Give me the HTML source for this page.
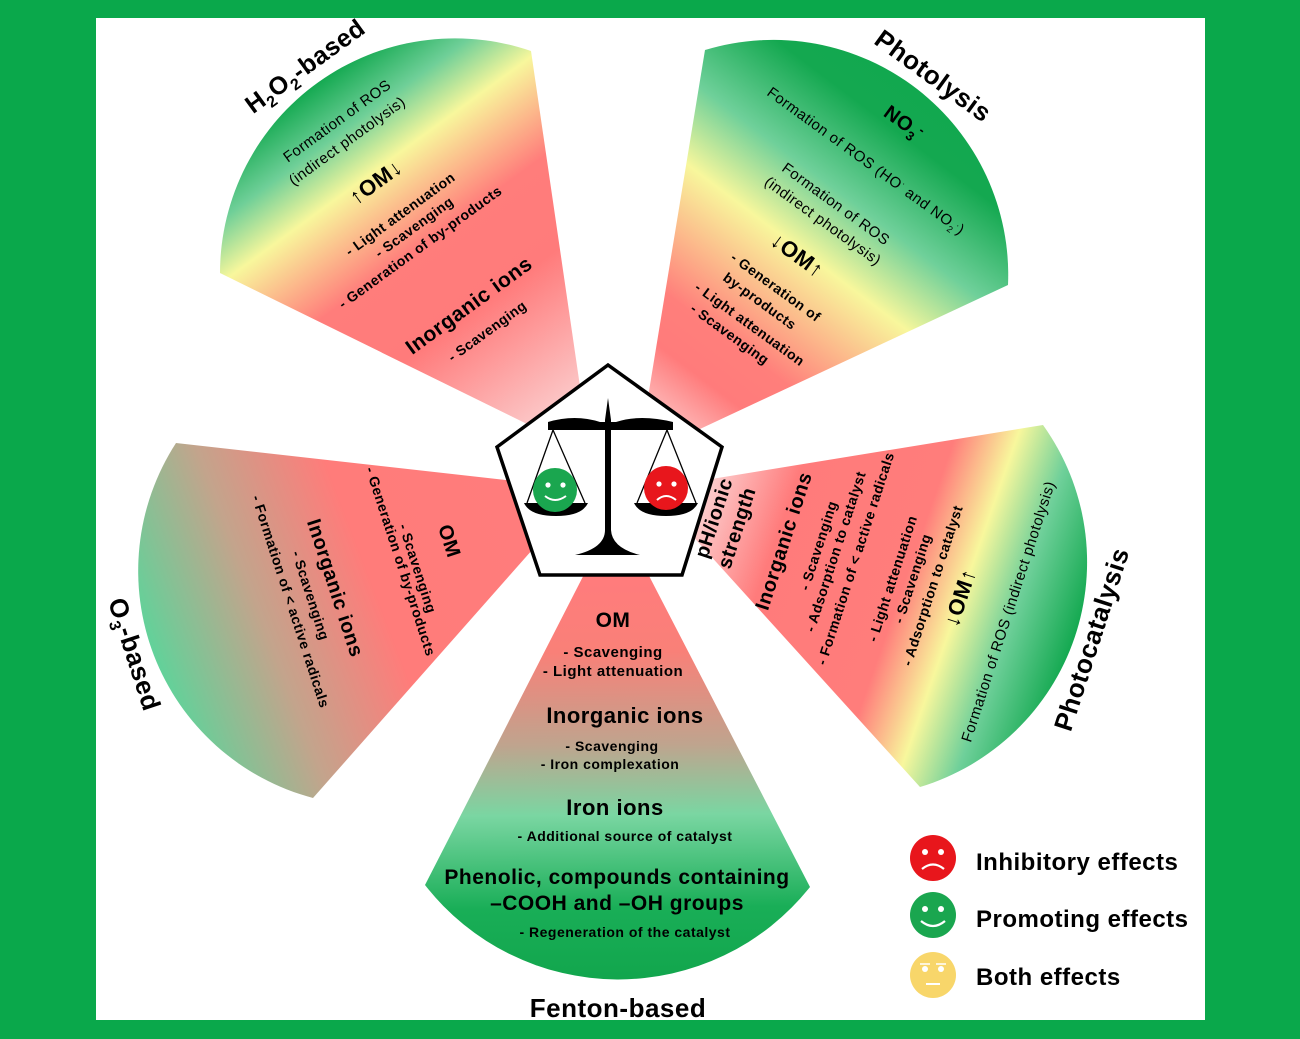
<!DOCTYPE html>
<html><head><meta charset="utf-8"><style>
html,body{margin:0;padding:0;background:#0aa84b;}
svg{display:block;}
text{font-family:"Liberation Sans",Arial,sans-serif;fill:#000;letter-spacing:0.5px;}
.b{font-weight:bold;}
</style></head><body>
<svg width="1300" height="1039" viewBox="0 0 1300 1039" xmlns="http://www.w3.org/2000/svg">
<defs>
<linearGradient id="gH" gradientUnits="userSpaceOnUse" x1="590" y1="455" x2="317" y2="81">
<stop offset="0.08" stop-color="#fbd3d3"/><stop offset="0.4" stop-color="#ff7b7b"/><stop offset="0.58" stop-color="#ff7d7b"/><stop offset="0.77" stop-color="#f8f79c"/><stop offset="0.88" stop-color="#6fcf98"/><stop offset="1" stop-color="#12a84f"/>
</linearGradient>
<linearGradient id="gP" gradientUnits="userSpaceOnUse" x1="638" y1="458" x2="917" y2="88">
<stop offset="0.05" stop-color="#fcd6d6"/><stop offset="0.22" stop-color="#ff7b7b"/><stop offset="0.32" stop-color="#ff7f7b"/><stop offset="0.57" stop-color="#f8f79c"/><stop offset="0.72" stop-color="#6fd09a"/><stop offset="0.9" stop-color="#14a850"/><stop offset="1" stop-color="#12a84f"/>
</linearGradient>
<linearGradient id="gC" gradientUnits="userSpaceOnUse" x1="650" y1="489" x2="1076" y2="638">
<stop offset="0.1" stop-color="#fcd6d6"/><stop offset="0.3" stop-color="#ff7b7b"/><stop offset="0.6" stop-color="#ff7d7b"/><stop offset="0.73" stop-color="#f8f79c"/><stop offset="0.85" stop-color="#6fd09a"/><stop offset="1" stop-color="#12a84f"/>
</linearGradient>
<linearGradient id="gO" gradientUnits="userSpaceOnUse" x1="586" y1="489" x2="151" y2="656">
<stop offset="0.1" stop-color="#ff7c7c"/><stop offset="0.5" stop-color="#ff7c7a"/><stop offset="0.75" stop-color="#c3a48c"/><stop offset="1" stop-color="#5fd39a"/>
</linearGradient>
<linearGradient id="gF" gradientUnits="userSpaceOnUse" x1="616" y1="512" x2="620" y2="978">
<stop offset="0.15" stop-color="#ff7c7c"/><stop offset="0.3" stop-color="#f98078"/><stop offset="0.5" stop-color="#bfa48e"/><stop offset="0.65" stop-color="#7ad6a2"/><stop offset="0.85" stop-color="#19ae57"/><stop offset="1" stop-color="#12a64d"/>
</linearGradient>
</defs>
<rect x="96" y="18" width="1109" height="1002" fill="#fff"/>

<path d="M590 455 L220 273 A235 235 0 0 1 531 51 Z" fill="url(#gH)"/>
<path d="M638 458 L705 50 A235 235 0 0 1 1008 285 Z" fill="url(#gP)"/>
<path d="M650 489 L1043 425 A235 235 0 0 1 920 787 Z" fill="url(#gC)"/>
<path d="M616 512 L810 887 A245 245 0 0 1 425 885 Z" fill="url(#gF)"/>
<path d="M586 489 L313 798 A235 235 0 0 1 176 443 Z" fill="url(#gO)"/>

<polygon points="608,365 722,447 682,575 540,575 497,447" fill="#fff" stroke="#000" stroke-width="3.5"/>
<g fill="#000" stroke="#000">
<path d="M608 398 L611 420 L611 530 Q612 548 640 555 L575 555 Q605 548 605 530 L605 420 Z" stroke="none"/>
<path d="M548 422 Q575 414 600 422 L616 422 Q640 414 673 422 L673 430 L548 430 Z" stroke="none"/>
<line x1="553" y1="430" x2="527" y2="503" stroke-width="1.3"/><line x1="553" y1="430" x2="585" y2="503" stroke-width="1.3"/>
<line x1="667" y1="430" x2="637" y2="503" stroke-width="1.3"/><line x1="667" y1="430" x2="696" y2="503" stroke-width="1.3"/>
<path d="M524 503 L588 503 Q582 516 556 516 Q530 516 524 503 Z" stroke="none"/>
<path d="M634 503 L698 503 Q692 516 666 516 Q640 516 634 503 Z" stroke="none"/>
</g>
<circle cx="555" cy="490" r="22" fill="#1aa64f"/>
<circle cx="548" cy="485" r="2.6" fill="#fff"/><circle cx="563" cy="485" r="2.6" fill="#fff"/>
<path d="M545 496 Q555 504 566 496" stroke="#fff" stroke-width="2" fill="none"/>
<circle cx="666" cy="488" r="22" fill="#e8161c"/>
<circle cx="659" cy="484" r="2.6" fill="#fff"/><circle cx="674" cy="484" r="2.6" fill="#fff"/>
<path d="M657 500 Q666 492 676 500" stroke="#fff" stroke-width="2" fill="none"/>

<!-- H2O2 -->
<g font-size="14">
<text transform="translate(310,73) rotate(-36)" text-anchor="middle" class="b" font-size="25">H<tspan font-size="16" dy="6">2</tspan><tspan dy="-6">O</tspan><tspan font-size="16" dy="6">2</tspan><tspan dy="-6">-based</tspan></text>
<text transform="translate(340,125) rotate(-36)" text-anchor="middle" font-size="15">Formation of ROS</text>
<text transform="translate(350,145) rotate(-36)" text-anchor="middle" font-size="15">(indirect photolysis)</text>
<text transform="translate(380,188) rotate(-36)" text-anchor="middle" class="b" font-size="22">↑OM↓</text>
<text transform="translate(403,218) rotate(-36)" text-anchor="middle" class="b">- Light attenuation</text>
<text transform="translate(417,231) rotate(-36)" text-anchor="middle" class="b">- Scavenging</text>
<text transform="translate(423,251) rotate(-36)" text-anchor="middle" class="b">- Generation of by-products</text>
<text transform="translate(473,311) rotate(-36)" text-anchor="middle" class="b" font-size="21">Inorganic ions</text>
<text transform="translate(490,335) rotate(-36)" text-anchor="middle" class="b">- Scavenging</text>
</g>

<!-- Photolysis -->
<g font-size="14">
<text transform="translate(928,83) rotate(36)" text-anchor="middle" class="b" font-size="26">Photolysis</text>
<text transform="translate(900,128) rotate(36)" text-anchor="middle" class="b" font-size="20">NO<tspan font-size="13" dy="5">3</tspan><tspan dy="-12" font-size="13">-</tspan></text>
<text transform="translate(863,165) rotate(36)" text-anchor="middle" font-size="15">Formation of ROS (HO<tspan font-size="9" dy="-6">·</tspan><tspan dy="6"> and NO</tspan><tspan font-size="9" dy="4">2</tspan><tspan font-size="9" dy="-8">·</tspan><tspan dy="4">)</tspan></text>
<text transform="translate(833,208) rotate(36)" text-anchor="middle" font-size="15">Formation of ROS</text>
<text transform="translate(820,225) rotate(36)" text-anchor="middle" font-size="15">(indirect photolysis)</text>
<text transform="translate(793,261) rotate(36)" text-anchor="middle" class="b" font-size="22">↓OM↑</text>
<text transform="translate(773,291) rotate(36)" text-anchor="middle" class="b">- Generation of</text>
<text transform="translate(757,305) rotate(36)" text-anchor="middle" class="b">by-products</text>
<text transform="translate(747,328) rotate(36)" text-anchor="middle" class="b">- Light attenuation</text>
<text transform="translate(727,338) rotate(36)" text-anchor="middle" class="b">- Scavenging</text>
</g>

<!-- Photocatalysis -->
<g font-size="14">
<text transform="translate(1100,642) rotate(-72)" text-anchor="middle" class="b" font-size="26">Photocatalysis</text>
<text transform="translate(720,520) rotate(-72)" text-anchor="middle" class="b" font-size="20">pH/ionic</text>
<text transform="translate(743,530) rotate(-72)" text-anchor="middle" class="b" font-size="20">strength</text>
<text transform="translate(790,543) rotate(-72)" text-anchor="middle" class="b" font-size="20">Inorganic ions</text>
<text transform="translate(823,547) rotate(-72)" text-anchor="middle" class="b">- Scavenging</text>
<text transform="translate(840,553) rotate(-72)" text-anchor="middle" class="b">- Adsorption to catalyst</text>
<text transform="translate(860,560) rotate(-72)" text-anchor="middle" class="b">- Formation of &lt; active radicals</text>
<text transform="translate(897,580) rotate(-72)" text-anchor="middle" class="b">- Light attenuation</text>
<text transform="translate(917,580) rotate(-72)" text-anchor="middle" class="b">- Scavenging</text>
<text transform="translate(937,587) rotate(-72)" text-anchor="middle" class="b">- Adsorption to catalyst</text>
<text transform="translate(967,600) rotate(-72)" text-anchor="middle" class="b" font-size="22">↓OM↑</text>
<text transform="translate(1013,613) rotate(-72)" text-anchor="middle" font-size="15">Formation of ROS (indirect photolysis)</text>
</g>

<!-- O3 -->
<g font-size="14">
<text transform="translate(126,657) rotate(72)" text-anchor="middle" class="b" font-size="26">O<tspan font-size="16" dy="6">3</tspan><tspan dy="-6">-based</tspan></text>
<text transform="translate(443,543) rotate(72)" text-anchor="middle" class="b" font-size="20">OM</text>
<text transform="translate(413,570) rotate(72)" text-anchor="middle" class="b">- Scavenging</text>
<text transform="translate(396,563) rotate(72)" text-anchor="middle" class="b">- Generation of by-products</text>
<text transform="translate(329,590) rotate(72)" text-anchor="middle" class="b" font-size="20">Inorganic ions</text>
<text transform="translate(306,597) rotate(72)" text-anchor="middle" class="b">- Scavenging</text>
<text transform="translate(286,603) rotate(72)" text-anchor="middle" class="b">- Formation of &lt; active radicals</text>
</g>

<!-- Fenton -->
<g text-anchor="middle" class="b">
<text x="613" y="627" font-size="21">OM</text>
<text x="613" y="657" font-size="15" letter-spacing="0.8">- Scavenging</text>
<text x="613" y="676" font-size="15" letter-spacing="0.8">- Light attenuation</text>
<text x="625" y="723" font-size="22" letter-spacing="0.8">Inorganic ions</text>
<text x="612" y="751" font-size="14" letter-spacing="0.8">- Scavenging</text>
<text x="610" y="769" font-size="14" letter-spacing="0.8">- Iron complexation</text>
<text x="615" y="815" font-size="22" letter-spacing="0.8">Iron ions</text>
<text x="625" y="841" font-size="14" letter-spacing="1.1">- Additional source of catalyst</text>
<text x="617" y="884" font-size="21" letter-spacing="1">Phenolic, compounds containing</text>
<text x="617" y="910" font-size="21" letter-spacing="1">–COOH and –OH groups</text>
<text x="625" y="937" font-size="14">- Regeneration of the catalyst</text>
<text x="618" y="1017" font-size="26" letter-spacing="1.2">Fenton-based</text>
</g>

<!-- legend -->
<circle cx="933" cy="858" r="23" fill="#e8161c"/>
<circle cx="925" cy="852" r="3" fill="#fff"/><circle cx="941" cy="852" r="3" fill="#fff"/>
<path d="M922 869 Q933 860 944 869" stroke="#fff" stroke-width="2.2" fill="none"/>
<circle cx="933" cy="915" r="23" fill="#1aa64f"/>
<circle cx="925" cy="909" r="3" fill="#fff"/><circle cx="941" cy="909" r="3" fill="#fff"/>
<path d="M921 921 Q933 931 945 921" stroke="#fff" stroke-width="2.2" fill="none"/>
<circle cx="933" cy="975" r="23" fill="#f8d66a"/>
<circle cx="925" cy="969" r="3" fill="#fff"/><circle cx="941" cy="969" r="3" fill="#fff"/>
<line x1="920" y1="964" x2="930" y2="964" stroke="#fff" stroke-width="1.5"/><line x1="936" y1="964" x2="946" y2="964" stroke="#fff" stroke-width="1.5"/>
<line x1="926" y1="984" x2="940" y2="984" stroke="#fff" stroke-width="2"/>
<g class="b" font-size="24" letter-spacing="1.5">
<text x="976" y="870">Inhibitory effects</text>
<text x="976" y="927">Promoting effects</text>
<text x="976" y="985">Both effects</text>
</g>
</svg>
</body></html>
